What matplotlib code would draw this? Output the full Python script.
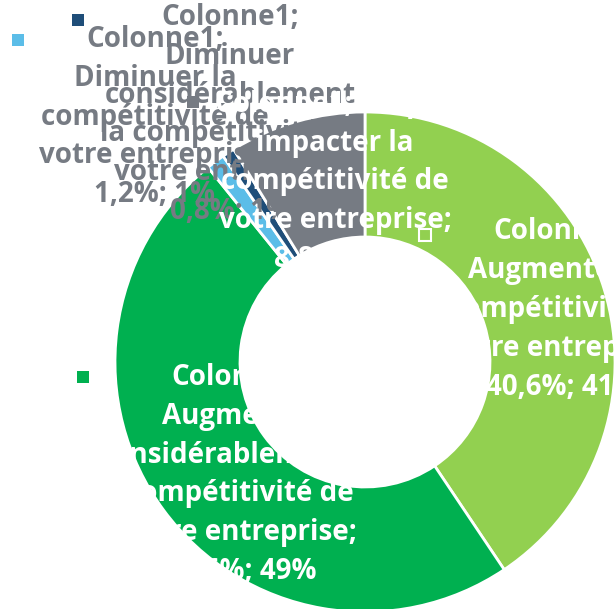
import matplotlib.pyplot as plt

series_name = "Colonne1"
categories = [
    "Augmenter la\ncompétitivité de\nvotre entreprise",
    "Augmenter\nconsidérablement la\ncompétitivité de\nvotre entreprise",
    "Diminuer la\ncompétitivité de\nvotre entreprise",
    "Diminuer\nconsidérablement\nla compétitivité de\nvotre entreprise",
    "Ne pas\nimpacter la\ncompétitivité de\nvotre entreprise",
]
percents = [40.6, 48.6, 1.2, 0.8, 8.8]
colors = ["#92D050", "#00B050", "#5BBDE8", "#1F4E79", "#767B83"]

label_color = ["white", "white", "#767B83", "#767B83", "white"]
label_pos = [(0.79, 0.21), (-0.50, -0.45), (-0.84, 0.98), (-0.54, 0.99), (-0.12, 0.72)]
key_pos = [(0.24, 0.51), (-1.13, -0.06), (-1.39, 1.29), (-1.15, 1.37), (-0.69, 1.04)]
draw_order = [2, 3, 4, 0, 1]

plt.rcParams["font.family"] = ["Open Sans", "DejaVu Sans"]

fig = plt.figure(figsize=(6.15, 6.09), dpi=100)
ax = fig.add_axes([0, 0, 1, 1])

ax.pie(percents, colors=colors, startangle=90, counterclock=False,
       radius=1.0, wedgeprops=dict(width=0.5, edgecolor="white", linewidth=2))


def fmt(p):
    return f"{p:.1f}".replace(".", ",") + "%"


for i in draw_order:
    # the "no impact" label keeps the series name on its first line
    sep = " " if i == 4 else "\n"
    text = f"{series_name};{sep}{categories[i]};\n{fmt(percents[i])}; {round(percents[i]):d}%"
    kx, ky = key_pos[i]
    ax.plot(kx, ky, marker="s", markersize=9, color=colors[i],
            markeredgecolor="white" if i == 0 else colors[i],
            markeredgewidth=1.5 if i == 0 else 0, zorder=5)
    x, y = label_pos[i]
    ax.text(x, y, text, ha="center", va="center", multialignment="center",
            color=label_color[i], fontsize=20, fontweight="bold",
            linespacing=1.45, zorder=5)

ax.set_xlim(-1.46, 1.0)
ax.set_ylim(-0.988, 1.448)
ax.set_aspect("equal")
ax.axis("off")

fig.savefig("out.png", dpi=100, facecolor="white")
